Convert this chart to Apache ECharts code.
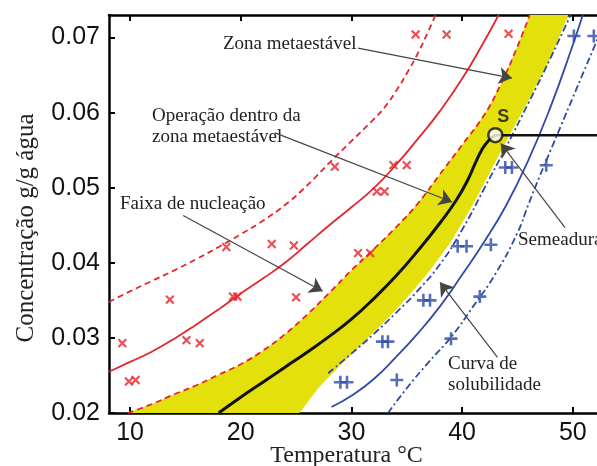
<!DOCTYPE html>
<html>
<head>
<meta charset="utf-8">
<script src="https://cdn.jsdelivr.net/npm/echarts@6/dist/echarts.min.js"></script>
<style>
  html, body { margin: 0; padding: 0; background: #fff; }
  #chart { width: 597px; height: 466px; }
</style>
</head>
<body>
<div id="chart"></div>
<script>
// ticks
var xTicks = [10, 20, 30, 40, 50];

// curvas vermelhas (zona metaestavel)
var redDashUpper = [[8.1,0.0348],[10,0.0362],[12,0.0376],[14,0.0390],[16,0.0405],[18,0.0421],[20,0.0438],[22,0.0456],[24,0.0477],[26,0.0503],[28,0.0533],[30,0.0562],[32,0.0591],[33,0.0607],[34,0.0628],[35,0.0652],[36,0.0679],[37,0.0710],[37.6,0.0730]];
var redSolid = [[8.1,0.0255],[10,0.0268],[12,0.0282],[14,0.0299],[16,0.0318],[18,0.0338],[20,0.0359],[22,0.0379],[24,0.0400],[26,0.0425],[28,0.0450],[30,0.0474],[32,0.0499],[34,0.0530],[36,0.0565],[38,0.0602],[40,0.0645],[42,0.0695],[43.3,0.0730]];
var redDashLower = [[9.8,0.0200],[12,0.0212],[14,0.0225],[16,0.0237],[18,0.0251],[20,0.0265],[22,0.0283],[24,0.0305],[26,0.0331],[28,0.0360],[30,0.0390],[32,0.0418],[34,0.0447],[36,0.0479],[38,0.0518],[40,0.0557],[42,0.0597],[43.5,0.0638],[45,0.0688],[46.1,0.0730]];

// faixa amarela (borda direita)
var yellowRight = [[25.3,0.0200],[27,0.0233],[29,0.0264],[31,0.0293],[33,0.0322],[35,0.0353],[37,0.0388],[39,0.0428],[41,0.0478],[42.5,0.0520],[44,0.0562],[46,0.0616],[48,0.0673],[49.6,0.0730]];

// curva de operacao (preta) ate o ponto S
var operCurve = [[18,0.0200],[20,0.0221],[22,0.0241],[24,0.0261],[26,0.0281],[28,0.0302],[30,0.0325],[32,0.0352],[34,0.0382],[36,0.0416],[38,0.0453],[39.5,0.0484],[40.5,0.0510],[41.2,0.0533],[41.8,0.0551],[42.4,0.0563],[43,0.0570]];
var seedPoint = [[43.0,0.0570]];
var seedLine = [[43.0,0.0570],[54,0.0570]];

// curvas azuis (solubilidade)
var blueDashDotLeft = [[27.9,0.0253],[30,0.0279],[32,0.0305],[34,0.0333],[36,0.0363],[38,0.0398],[40,0.0444],[42,0.0499],[44,0.0555],[46,0.0613],[48,0.0673],[49.8,0.0730]];
var blueSolid = [[28.2,0.0208],[30,0.0223],[32,0.0245],[34,0.0274],[36,0.0306],[38,0.0342],[40,0.0384],[42,0.0428],[44,0.0477],[46,0.0537],[48,0.0608],[50,0.0690],[50.9,0.0730]];
var blueDashDotRight = [[33.3,0.0200],[35,0.0233],[37,0.0268],[39,0.0301],[41,0.0342],[43,0.0385],[45,0.0440],[46,0.0478],[47,0.0515],[48,0.0550],[49,0.0585],[50,0.0620],[51,0.0655],[52,0.0690],[53.2,0.0735]];

// pontos experimentais
var redCross = [[9.3,0.0293],[9.9,0.0242],[10.5,0.0244],[13.6,0.0351],[15.1,0.0297],[16.3,0.0293],[18.7,0.0421],[19.3,0.0355],[19.7,0.0355],[22.8,0.0425],[24.8,0.0423],[25.0,0.0354],[28.5,0.0528],[30.6,0.0413],[31.7,0.0413],[32.3,0.0495],[33.0,0.0495],[33.8,0.0530],[35.0,0.0530],[35.8,0.0704],[38.6,0.0704],[44.2,0.0705]];
var bluePlus = [[29.0,0.0241],[29.6,0.0241],[34.1,0.0244],[32.8,0.0295],[33.3,0.0295],[36.5,0.0350],[37.1,0.0350],[39.0,0.0299],[41.6,0.0355],[39.6,0.0422],[40.4,0.0422],[42.6,0.0424],[43.9,0.0527],[44.5,0.0527],[47.6,0.0530],[50.1,0.0702],[51.9,0.0702]];

// anotacoes (setas) em coordenadas de dados
var arrows = [
  [[30.6,0.0686],[44.5,0.0646]],
  [[23.1,0.0573],[39.1,0.0481]],
  [[14.8,0.0463],[27.4,0.0362]],
  [[49.3,0.0447],[43.5,0.0559]],
  [[43.2,0.0274],[38.0,0.0374]]
];

var RED = '#e3262d';
var BLUE = '#2f4aa6';
var YELLOW = '#e4e00c';
var SERIF = '"Liberation Serif", "DejaVu Serif", serif';
var SANS = '"Liberation Sans", Arial, sans-serif';
var plusPath = 'path://M4,0H6V4H10V6H6V10H4V6H0V4H4Z';

var bandPoints = redDashLower.concat(yellowRight.slice().reverse());

var chart = echarts.init(document.getElementById('chart'));

function lineSeries(data, color, type, width, z) {
  return {
    type: 'line', data: data, smooth: 0.5, showSymbol: false, symbol: 'none',
    lineStyle: { color: color, type: type, width: width },
    z: z || 3, silent: true
  };
}

var option = {
  animation: false,
  backgroundColor: '#fff',
  grid: { left: 109, top: 15, right: -9, bottom: 53, outerBoundsMode: 'none', containLabel: false },
  xAxis: [{
    type: 'value', min: 8.1, max: 53,
    name: 'Temperatura °C', nameLocation: 'middle', nameGap: 31, nameMoveOverlap: false,
    nameTextStyle: { fontFamily: SERIF, fontSize: 24, color: '#222', padding: [0, 22, 0, 0] },
    axisLine: { lineStyle: { color: '#000', width: 2.5 } },
    axisTick: { inside: true, length: 6, lineStyle: { color: '#000', width: 2 }, customValues: xTicks },
    axisLabel: { customValues: xTicks, fontFamily: SANS, fontSize: 25, color: '#111', margin: 8 },
    splitLine: { show: false }
  }, {
    type: 'value', min: 8.1, max: 53, position: 'top',
    axisLine: { lineStyle: { color: '#000', width: 2.5 } },
    axisTick: { inside: true, length: 6, lineStyle: { color: '#000', width: 2 }, customValues: xTicks },
    axisLabel: { show: false, customValues: xTicks },
    splitLine: { show: false }
  }],
  yAxis: {
    type: 'value', min: 0.02, max: 0.073, interval: 0.01,
    name: 'Concentração g/g água', nameLocation: 'middle', nameGap: 70, nameMoveOverlap: false,
    nameTextStyle: { fontFamily: SERIF, fontSize: 25, color: '#222', padding: [0, 28, 0, 0] },
    axisLine: { show: true, lineStyle: { color: '#000', width: 2.5 } },
    axisTick: { show: true, inside: true, length: 6, lineStyle: { color: '#000', width: 2 } },
    axisLabel: {
      fontFamily: SANS, fontSize: 25, color: '#111', margin: 9,
      formatter: function (v) { return v.toFixed(2); }
    },
    splitLine: { show: false }
  },
  series: [
    {
      type: 'custom', silent: true, z: 1, clip: true,
      data: bandPoints,
      renderItem: function (params, api) {
        if (params.dataIndex !== 0) return;
        var pts = bandPoints.map(function (p) { return api.coord(p); });
        return { type: 'polygon', shape: { points: pts }, style: { fill: YELLOW } };
      }
    },
    lineSeries(redDashUpper, RED, [6, 4], 1.8),
    lineSeries(redSolid, RED, 'solid', 1.8),
    lineSeries(redDashLower, RED, [6, 4], 1.8),
    lineSeries(blueDashDotLeft, BLUE, [7, 3, 2, 3], 1.8),
    lineSeries(blueSolid, BLUE, 'solid', 1.8),
    lineSeries(blueDashDotRight, BLUE, [7, 3, 2, 3], 1.8),
    lineSeries(operCurve, '#111', 'solid', 3, 4),
    {
      type: 'line', data: seedLine, showSymbol: false, symbol: 'none', silent: true, z: 4,
      lineStyle: { color: '#111', width: 2.5 }
    },
    {
      type: 'scatter', data: redCross, symbol: plusPath, symbolSize: 11, symbolRotate: 45,
      itemStyle: { color: RED }, z: 5, silent: true
    },
    {
      type: 'scatter', data: bluePlus, symbol: plusPath, symbolSize: 13,
      itemStyle: { color: BLUE }, z: 5, silent: true
    },
    {
      type: 'line', data: [], silent: true, z: 6,
      markLine: {
        silent: true, symbol: ['none', 'arrow'], symbolSize: 13, animation: false,
        label: { show: false },
        lineStyle: { color: '#444', width: 1.2, type: 'solid' },
        data: arrows.map(function (a) {
          return [{ coord: a[0] }, { coord: a[1] }];
        })
      }
    },
    {
      type: 'scatter', data: seedPoint, symbol: 'circle', symbolSize: 14, z: 7, silent: true,
      itemStyle: { color: '#fff', borderColor: '#111', borderWidth: 2.5 },
      label: { show: true, position: 'top', formatter: 'S', distance: 3, offset: [8, 2],
        fontFamily: SANS, fontWeight: 'bold', fontSize: 18, color: '#111' }
    }
  ],
  graphic: [
    { type: 'text', left: 223, top: 35, style: { text: 'Zona metaestável', font: '19px ' + SERIF, fill: '#222' } },
    { type: 'text', left: 152, top: 106, style: { text: 'Operação dentro da\nzona metaestável', font: '19px ' + SERIF, fill: '#222', lineHeight: 21 } },
    { type: 'text', left: 120, top: 195, style: { text: 'Faixa de nucleação', font: '19px ' + SERIF, fill: '#222' } },
    { type: 'text', left: 518, top: 231, style: { text: 'Semeadura', font: '19px ' + SERIF, fill: '#222' } },
    { type: 'text', left: 448, top: 354, style: { text: 'Curva de\nsolubilidade', font: '19px ' + SERIF, fill: '#222', lineHeight: 21 } }
  ]
};

chart.setOption(option);
</script>
</body>
</html>
